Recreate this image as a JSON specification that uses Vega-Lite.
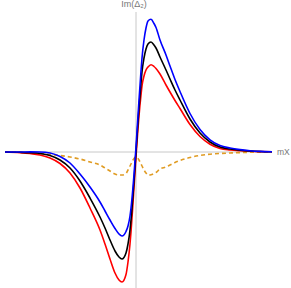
{
  "$schema": "https://vega.github.io/schema/vega-lite/v6.json",
  "autosize": "none",
  "width": 267,
  "height": 276,
  "padding": {"left": 5, "top": 12, "right": 19, "bottom": 0},
  "background": "white",
  "config": {"view": {"stroke": null}},
  "data": {"values": [
    {"x": -13.1, "d": 0, "o": 0, "b": 0, "r": 0},
    {"x": -11.6, "d": -0.03, "o": -0.03, "b": 0, "r": -0.06},
    {"x": -10.6, "d": -0.07, "o": -0.08, "b": 0.01, "r": -0.15},
    {"x": -9.6, "d": -0.15, "o": -0.15, "b": 0, "r": -0.3},
    {"x": -8.6, "d": -0.35, "o": -0.25, "b": -0.1, "r": -0.6},
    {"x": -7.6, "d": -0.8, "o": -0.35, "b": -0.45, "r": -1.15},
    {"x": -6.6, "d": -1.6, "o": -0.5, "b": -1.1, "r": -2.1},
    {"x": -5.6, "d": -2.9, "o": -0.7, "b": -2.2, "r": -3.6},
    {"x": -4.6, "d": -4.6, "o": -1.0, "b": -3.5, "r": -5.6},
    {"x": -3.6, "d": -6.5, "o": -1.3, "b": -5.0, "r": -7.8},
    {"x": -3.1, "d": -7.6, "o": -1.6, "b": -5.9, "r": -9.2},
    {"x": -2.6, "d": -8.8, "o": -1.9, "b": -6.8, "r": -10.7},
    {"x": -2.1, "d": -9.9, "o": -2.2, "b": -7.65, "r": -12.1},
    {"x": -1.7, "d": -10.5, "o": -2.3, "b": -8.2, "r": -12.8},
    {"x": -1.4, "d": -10.7, "o": -2.3, "b": -8.4, "r": -13.0},
    {"x": -1.0, "d": -10.1, "o": -2.15, "b": -7.95, "r": -12.25},
    {"x": -0.8, "d": -9.2, "o": -1.8, "b": -7.4, "r": -11.0},
    {"x": -0.6, "d": -7.8, "o": -1.4, "b": -6.4, "r": -9.2},
    {"x": -0.5, "d": -6.8, "o": -1.2, "b": -5.6, "r": -8.0},
    {"x": -0.3, "d": -4.3, "o": -0.8, "b": -3.5, "r": -5.1},
    {"x": -0.2, "d": -2.9, "o": -0.65, "b": -2.25, "r": -3.55},
    {"x": 0, "d": 0, "o": -0.5, "b": 0.5, "r": -0.5},
    {"x": 0.2, "d": 3.0, "o": -0.65, "b": 3.65, "r": 2.35},
    {"x": 0.3, "d": 4.4, "o": -0.8, "b": 5.2, "r": 3.6},
    {"x": 0.5, "d": 6.9, "o": -1.2, "b": 8.1, "r": 5.7},
    {"x": 0.6, "d": 8.0, "o": -1.4, "b": 9.4, "r": 6.6},
    {"x": 0.8, "d": 9.4, "o": -1.8, "b": 11.2, "r": 7.6},
    {"x": 1.0, "d": 10.3, "o": -2.1, "b": 12.4, "r": 8.2},
    {"x": 1.2, "d": 10.8, "o": -2.3, "b": 13.1, "r": 8.5},
    {"x": 1.5, "d": 11.0, "o": -2.27, "b": 13.27, "r": 8.73},
    {"x": 1.8, "d": 10.7, "o": -2.15, "b": 12.85, "r": 8.55},
    {"x": 2.0, "d": 10.4, "o": -2.05, "b": 12.45, "r": 8.35},
    {"x": 2.4, "d": 9.5, "o": -1.7, "b": 11.2, "r": 7.8},
    {"x": 3.0, "d": 8.2, "o": -1.5, "b": 9.7, "r": 6.7},
    {"x": 3.4, "d": 7.3, "o": -1.3, "b": 8.6, "r": 6.0},
    {"x": 3.9, "d": 6.2, "o": -1.05, "b": 7.25, "r": 5.15},
    {"x": 4.4, "d": 5.2, "o": -0.85, "b": 6.05, "r": 4.35},
    {"x": 5.4, "d": 3.3, "o": -0.55, "b": 3.85, "r": 2.75},
    {"x": 6.4, "d": 1.9, "o": -0.35, "b": 2.25, "r": 1.55},
    {"x": 7.4, "d": 1.0, "o": -0.22, "b": 1.22, "r": 0.78},
    {"x": 8.4, "d": 0.5, "o": -0.15, "b": 0.65, "r": 0.35},
    {"x": 9.4, "d": 0.3, "o": -0.1, "b": 0.4, "r": 0.2},
    {"x": 10.4, "d": 0.18, "o": -0.06, "b": 0.24, "r": 0.12},
    {"x": 11.4, "d": 0.1, "o": -0.03, "b": 0.13, "r": 0.07},
    {"x": 12.4, "d": 0.05, "o": -0.01, "b": 0.06, "r": 0.04},
    {"x": 13.6, "d": 0.02, "o": 0, "b": 0.02, "r": 0.02}
  ]},
  "layer": [
    {
      "data": {"values": [{}]},
      "mark": {"type": "rule", "color": "#c8c8c8", "strokeWidth": 1},
      "encoding": {"x": {"datum": 0, "type": "quantitative", "scale": {"domain": [-13.1, 13.6], "nice": false, "zero": false}, "axis": null}}
    },
    {
      "data": {"values": [{}]},
      "mark": {"type": "rule", "color": "#c8c8c8", "strokeWidth": 1},
      "encoding": {"y": {"datum": 0, "type": "quantitative", "scale": {"domain": [-13.6, 14], "nice": false, "zero": false}, "axis": null}}
    },
    {
      "mark": {"type": "line", "color": "#E09C24", "strokeWidth": 1.6, "strokeDash": [4, 3], "interpolate": "monotone"},
      "encoding": {
        "x": {"field": "x", "type": "quantitative"},
        "y": {"field": "o", "type": "quantitative"}
      }
    },
    {
      "mark": {"type": "line", "color": "#ff0000", "strokeWidth": 1.6, "interpolate": "monotone"},
      "encoding": {"x": {"field": "x", "type": "quantitative"}, "y": {"field": "r", "type": "quantitative"}}
    },
    {
      "mark": {"type": "line", "color": "#000000", "strokeWidth": 1.6, "interpolate": "monotone"},
      "encoding": {"x": {"field": "x", "type": "quantitative"}, "y": {"field": "d", "type": "quantitative"}}
    },
    {
      "mark": {"type": "line", "color": "#0000ff", "strokeWidth": 1.6, "interpolate": "monotone"},
      "encoding": {"x": {"field": "x", "type": "quantitative"}, "y": {"field": "b", "type": "quantitative"}}
    },
    {
      "data": {"values": [{}]},
      "mark": {"type": "text", "text": "Im(Δ₂)", "align": "center", "baseline": "bottom", "dy": -3, "dx": -2, "fontSize": 9, "color": "#777", "font": "Liberation Sans"},
      "encoding": {"x": {"datum": 0, "type": "quantitative"}, "y": {"datum": 14, "type": "quantitative"}}
    },
    {
      "data": {"values": [{}]},
      "mark": {"type": "text", "text": "mX", "align": "left", "baseline": "middle", "dx": 5, "fontSize": 8.5, "color": "#777", "font": "Liberation Sans"},
      "encoding": {"x": {"datum": 13.6, "type": "quantitative"}, "y": {"datum": 0, "type": "quantitative"}}
    }
  ]
}
